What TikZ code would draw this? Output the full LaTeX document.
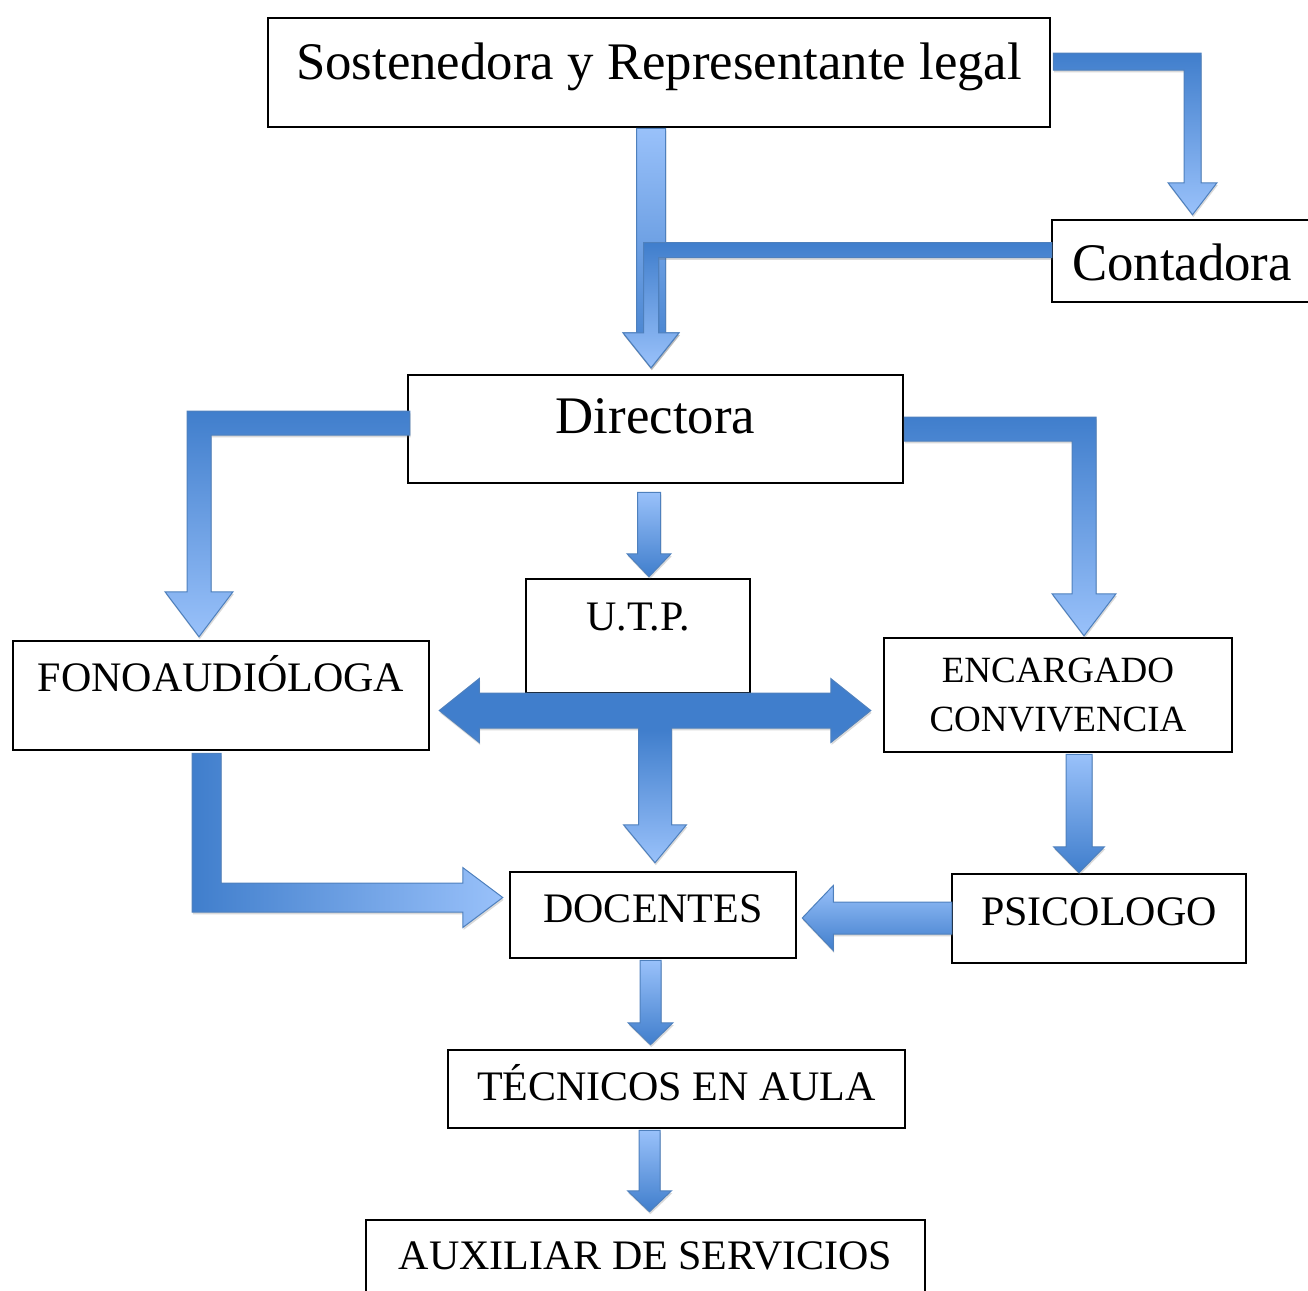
\documentclass[tikz,border=0pt]{standalone}
\usepackage{fontspec}
\setmainfont{Liberation Serif}
\usetikzlibrary{calc,shadows}

\definecolor{blkdark}{RGB}{64,126,204}
\definecolor{blklight}{RGB}{153,193,250}
\definecolor{blkline}{RGB}{78,128,189}

\pgfdeclareverticalshading{tshade}{100bp}{color(0bp)=(blklight); color(25bp)=(blklight); color(61bp)=(blkdark); color(100bp)=(blkdark)}

\tikzset{
  orgbox/.style={draw, line width=1.25pt, inner sep=0pt},
  bigtxt/.style={font=\fontsize{26.4pt}{31pt}\selectfont},
  midtxt/.style={font=\fontsize{21pt}{25pt}\selectfont},
  smalltxt/.style={font=\fontsize{18.5pt}{24.5pt}\selectfont},
  baseup/.style={text height=#1, text depth=0pt},
  basedn/.style={text height=0pt, text depth=#1},
  blk/.style={draw=blkline, line width=0.5pt, line join=miter,
    drop shadow={shadow xshift=0.4pt, shadow yshift=-1.2pt, opacity=0.25, fill=black!60}},
  lightdark/.style={blk, top color=blklight, bottom color=blkdark},
  darklight/.style={blk, top color=blkdark, bottom color=blklight},
}

% straight block arrow: [style]{from}{tip}{half shaft}{half head}{head length}
\newcommand{\blkarrow}[6][]{%
  \coordinate (hb) at ($(#3)!#6!(#2)$);
  \path[#1] ($(#2)!#4!90:(#3)$) -- ($(hb)!#4!90:(#3)$) -- ($(hb)!#5!90:(#3)$) -- (#3)
    -- ($(hb)!#5!-90:(#3)$) -- ($(hb)!#4!-90:(#3)$) -- ($(#2)!#4!-90:(#3)$) -- cycle;}

% bent block arrow, first across then down
\newcommand{\elbowdown}[6][]{%
  \path[#1] let \p1=(#2), \p2=(#3), \n1={sign(\x2-\x1)} in
    (\x1,{\y1+#4}) -- ({\x2+\n1*#4},{\y1+#4}) -- ({\x2+\n1*#4},{\y2+#6})
    -- ({\x2+\n1*#5},{\y2+#6}) -- (\x2,\y2) -- ({\x2-\n1*#5},{\y2+#6})
    -- ({\x2-\n1*#4},{\y2+#6}) -- ({\x2-\n1*#4},{\y1-#4}) -- (\x1,{\y1-#4}) -- cycle;}

\begin{document}
\begin{tikzpicture}[x=0.5pt, y=-0.5pt]
  \useasboundingbox (0,0) rectangle (1308,1291);

  % boxes
  \node[orgbox, bigtxt, baseup=6.5pt, minimum width=391pt, minimum height=54.5pt] (sost) at (659,72.5) {Sostenedora y Representante legal};
  \node[orgbox, bigtxt, baseup=19pt, minimum width=130pt, minimum height=41pt] (cont) at (1182,261) {Contadora};
  \node[orgbox, bigtxt, baseup=4pt, minimum width=247.5pt, minimum height=54pt] (dir) at (655.5,429) {Directora};
  \node[orgbox, midtxt, basedn=6pt, minimum width=112pt, minimum height=57pt] (utp) at (638,636) {U.T.P.};
  \node[orgbox, midtxt, basedn=4pt, minimum width=208pt, minimum height=54.5pt] (fono) at (221,695.5) {FONOAUDIÓLOGA};
  \node[orgbox, smalltxt, align=center, minimum width=174pt, minimum height=57pt] (enc) at (1058,695) {ENCARGADO\\CONVIVENCIA};
  \node[orgbox, midtxt, baseup=7pt, minimum width=143pt, minimum height=43pt] (doc) at (653,915) {DOCENTES};
  \node[orgbox, midtxt, baseup=6.5pt, minimum width=147pt, minimum height=44.5pt] (psi) at (1099,918.5) {PSICOLOGO};
  \node[orgbox, midtxt, baseup=11pt, minimum width=228.5pt, minimum height=39pt] (tec) at (676.5,1089) {TÉCNICOS EN AULA};
  \node[orgbox, midtxt, baseup=4pt, minimum width=279.5pt, minimum height=45pt] (aux) at (645.5,1265) {AUXILIAR DE SERVICIOS};

  % arrow ends
  \coordinate (s1) at ($(sost.south)+(-8,0)$);
  \coordinate (t1) at ($(dir.north)+(-4.5,-6)$);
  \coordinate (s2) at ($(sost.east)+(2,-11)$);
  \coordinate (t2) at ($(cont.north)+(10.5,-4)$);
  \coordinate (s3) at ($(cont.west)+(1,-11)$);
  \coordinate (s4) at ($(dir.west)+(3,-6)$);
  \coordinate (t4) at ($(fono.north)+(-22,-3)$);
  \coordinate (s5) at (dir.east);
  \coordinate (t5) at ($(enc.north)+(26,-1)$);
  \coordinate (s6) at ($(dir.south)+(-6.5,8)$);
  \coordinate (t6) at ($(utp.north)+(11,-1)$);
  \coordinate (tl) at ($(fono.east)+(9,15)$);
  \coordinate (tr) at ($(enc.west)+(-12,15.5)$);
  \coordinate (td) at ($(doc.north)+(2,-8)$);
  \coordinate (s8) at ($(fono.south)+(-14.5,2)$);
  \coordinate (t8) at ($(doc.west)+(-6,-17.5)$);
  \coordinate (s9) at ($(enc.south)+(21,1)$);
  \coordinate (t9) at ($(psi.north)+(-20,0)$);
  \coordinate (s10) at ($(psi.west)+(1,-0.5)$);
  \coordinate (t10) at ($(doc.east)+(5,3)$);
  \coordinate (s11) at ($(doc.south)+(-2.5,1)$);
  \coordinate (t11) at ($(tec.north)+(-26,-4)$);
  \coordinate (s12) at ($(tec.south)+(-27,1)$);
  \coordinate (t12) at ($(aux.north)+(4,-7)$);

  % arrows
  \blkarrow[lightdark]{s1}{t1}{7.25pt}{14pt}{17.5pt}
  \elbowdown[darklight]{s2}{t2}{4.25pt}{12.25pt}{16pt}
  \elbowdown[darklight]{s3}{t1}{3.75pt}{14pt}{17.5pt}
  \elbowdown[darklight]{s4}{t4}{6pt}{17pt}{22.5pt}
  \elbowdown[darklight]{s5}{t5}{6pt}{16pt}{21pt}
  \blkarrow[lightdark]{s6}{t6}{5.75pt}{11pt}{11.5pt}

  \path[blk, shade, shading=tshade] let \p1=(tl), \p2=(tr), \p3=(td) in
    (\x1,\y1) -- ({\x1+20pt},{\y1+16pt}) -- ({\x1+20pt},{\y1+8.75pt})
    -- ({\x2-20pt},{\y1+8.75pt}) -- ({\x2-20pt},{\y1+16pt}) -- (\x2,\y1)
    -- ({\x2-20pt},{\y1-16pt}) -- ({\x2-20pt},{\y1-8.75pt})
    -- ({\x3+8.25pt},{\y1-8.75pt}) -- ({\x3+8.25pt},{\y3+19pt}) -- ({\x3+15.75pt},{\y3+19pt})
    -- (\x3,\y3) -- ({\x3-15.75pt},{\y3+19pt}) -- ({\x3-8.25pt},{\y3+19pt})
    -- ({\x3-8.25pt},{\y1-8.75pt}) -- ({\x1+20pt},{\y1-8.75pt}) -- ({\x1+20pt},{\y1-16pt}) -- cycle;

  \path[blk, left color=blkdark, right color=blklight] let \p1=(s8), \p2=(t8) in
    ({\x1-7.25pt},\y1) -- ({\x1+7.25pt},\y1) -- ({\x1+7.25pt},{\y2+7.25pt})
    -- ({\x2-20pt},{\y2+7.25pt}) -- ({\x2-20pt},{\y2+15pt}) -- (\x2,\y2)
    -- ({\x2-20pt},{\y2-15pt}) -- ({\x2-20pt},{\y2-7.25pt}) -- ({\x1-7.25pt},{\y2-7.25pt}) -- cycle;

  \blkarrow[lightdark]{s9}{t9}{6.5pt}{12.75pt}{13pt}
  \blkarrow[lightdark]{s10}{t10}{8pt}{16.25pt}{15.5pt}
  \blkarrow[lightdark]{s11}{t11}{5.25pt}{11.25pt}{11pt}
  \blkarrow[lightdark]{s12}{t12}{5.25pt}{11pt}{10.5pt}

\end{tikzpicture}
\end{document}
